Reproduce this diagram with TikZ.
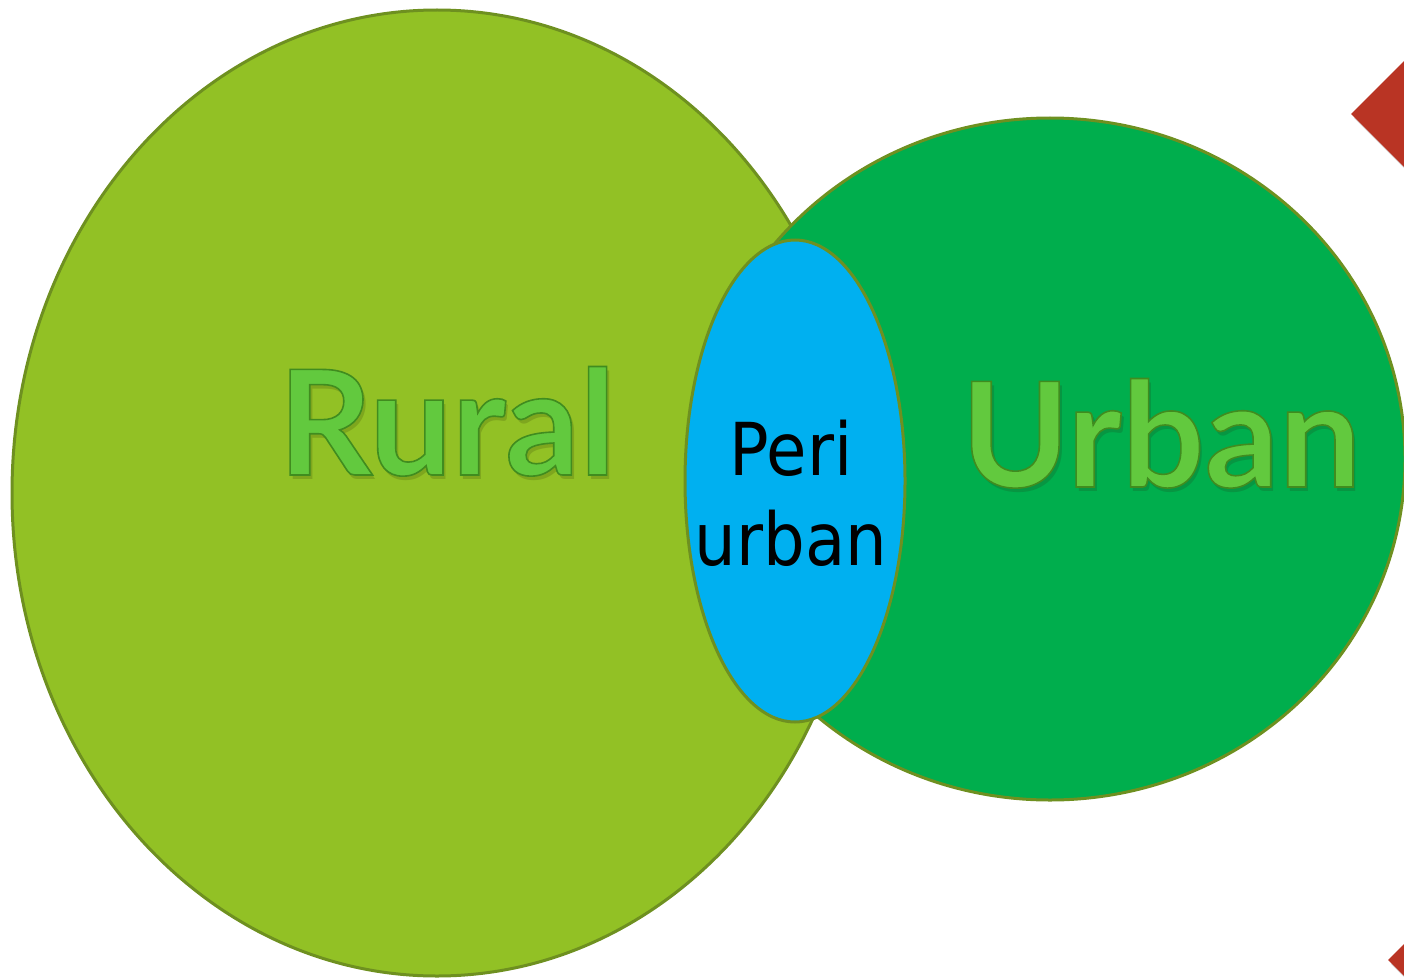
\documentclass[tikz,border=0pt]{standalone}
\usepackage{fontspec}
\usetikzlibrary{shapes.geometric}
\setmainfont{Lato}
\newfontfamily\labelfont{Lato}
\newfontfamily\perifont{DejaVu Sans Condensed}
\definecolor{ruralfill}{HTML}{92C125}
\definecolor{urbanfill}{HTML}{00AE4D}
\definecolor{perifill}{HTML}{00B0F0}
\definecolor{rim}{HTML}{6E9020}
\definecolor{arrowred}{HTML}{B93424}
\definecolor{wordfill}{HTML}{62C93E}
\definecolor{ruralshade}{HTML}{7EA61E}
\definecolor{urbanshade}{HTML}{079642}
\tikzset{
  zone/.style={ellipse, draw=rim, line width=3pt, inner sep=0pt, outer sep=0pt},
  bigword/.style={inner sep=0pt, anchor=base, font=\labelfont\bfseries\fontsize{146}{150}\selectfont},
  periword/.style={inner sep=0pt, anchor=base, font=\perifont\fontsize{73}{90}\selectfont, text=black},
  redtip/.style={fill=arrowred, draw=none}
}
% glossy word: soft shadow below, then the word filled light green with a dark green rim
\newcommand{\glossy}[2]{%
  \rlap{\hspace*{3pt}\raisebox{-4pt}{\color{#1}#2}}%
  {\color{wordfill}\special{pdf:literal direct 0.25 0.55 0.12 RG 1.6 w 2 Tr}#2\special{pdf:literal direct 0 Tr}}}
\begin{document}
\begin{tikzpicture}[x=1pt, y=-1pt]
  \useasboundingbox (0,0) rectangle (1404,979);
  \clip (0,0) rectangle (1404,979);

  % red pointer tips at the right border, with a soft shadow
  \fill[black, opacity=0.18] (1354,118) -- (1423,49) -- (1492,118) -- (1423,187) -- cycle;
  \path[redtip] (1351,114) -- (1420,45) -- (1489,114) -- (1420,183) -- cycle;
  \fill[black, opacity=0.18] (1391,964) -- (1460,895) -- (1529,964) -- (1460,1033) -- cycle;
  \path[redtip] (1388,960) -- (1457,891) -- (1526,960) -- (1457,1029) -- cycle;

  % the three areas
  \node[zone, fill=ruralfill, minimum width=850pt, minimum height=966pt] (ruralarea) at (437,493) {};
  \node[zone, fill=urbanfill, minimum width=710pt, minimum height=682pt] (urbanarea) at (1050,459) {};
  \node[zone, fill=perifill, minimum width=220pt, minimum height=482pt] (periarea) at (795,481) {};

  % labels
  \node[bigword] (rural) at (447,475) {\glossy{ruralshade}{Rural}};
  \node[bigword] (urban) at (1161,487) {\glossy{urbanshade}{Urban}};
  \node[periword] (peri1) at (791,475) {Peri};
  \node[periword] (peri2) at (791,565) {urban};
\end{tikzpicture}
\end{document}
